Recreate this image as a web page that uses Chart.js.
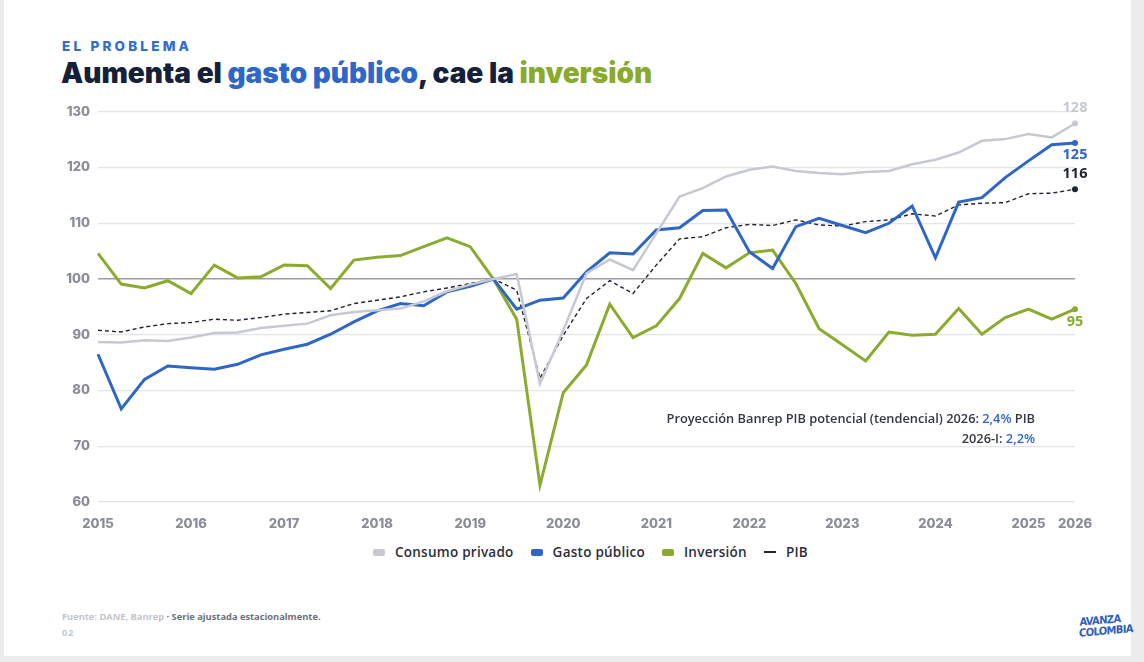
<!DOCTYPE html>
<html>
<head>
<meta charset="utf-8">
<script src="https://cdn.jsdelivr.net/npm/chart.js@4/dist/chart.umd.min.js"></script>
<style>
  html, body { margin: 0; padding: 0; }
  body { width: 1144px; height: 662px; background: #ececef; position: relative; overflow: hidden; font-family: "Open Sans", sans-serif; }
  #card { position: absolute; left: 4px; top: 0; width: 1127px; height: 656px; background: #fff; }
  .kicker { position: absolute; left: 62px; top: 38px; font: 800 13.5px Inter, sans-serif; letter-spacing: 3.2px; color: #2f6bd0; }
  .title { position: absolute; left: 61px; top: 56px; font: 900 28px Inter, sans-serif; letter-spacing: 0; color: #15203a; white-space: nowrap; }
  .title .b { color: #2f67c9; }
  .title .g { color: #8aaa2c; }
  #wrap { position: absolute; left: 40px; top: 96px; width: 1070px; height: 436px; }
  #legend { position: absolute; left: 373px; top: 543px; display: flex; gap: 17px; font: 600 13.5px "Open Sans", sans-serif; letter-spacing: 0.25px; color: #2b2f3a; }
  #legend span.item { display: flex; align-items: center; gap: 10px; }
  #legend i { display: inline-block; width: 12px; height: 7px; border-radius: 2px; }
  #legend i.line { height: 2px; border-radius: 0; }
  .foot { position: absolute; left: 62px; top: 610px; font: 700 9.3px "Open Sans", sans-serif; color: #6d707a; }
  .foot .l { color: #c3c5cb; }
  .page { position: absolute; left: 62px; top: 626px; font: 700 9px "Open Sans", sans-serif; color: #c3c5cb; letter-spacing: 1px; }
  .logo { position: absolute; left: 1079px; top: 614px; width: 42px; padding: 1px 0; font: 700 11px/11px "DejaVu Sans Condensed", "DejaVu Sans", sans-serif; color: #2f5fb8; text-align: center; letter-spacing: -0.6px; transform: skewY(-5deg); }
</style>
</head>
<body>
<div id="card"></div>
<div class="kicker">EL PROBLEMA</div>
<div class="title">Aumenta el <span class="b">gasto público</span>, cae la <span class="g">inversión</span></div>
<div id="wrap"><canvas id="chart"></canvas></div>
<div id="legend"></div>
<div class="foot"><span class="l">Fuente: DANE, Banrep</span> · Serie ajustada estacionalmente.</div>
<div class="page">02</div>
<div class="logo">AVANZA<br>COLOMBIA</div>
<script>
// quarterly categories, 2015-I .. 2025-III
const quarters = [
  '2015-I','2015-II','2015-III','2015-IV','2016-I','2016-II','2016-III','2016-IV',
  '2017-I','2017-II','2017-III','2017-IV','2018-I','2018-II','2018-III','2018-IV',
  '2019-I','2019-II','2019-III','2019-IV','2020-I','2020-II','2020-III','2020-IV',
  '2021-I','2021-II','2021-III','2021-IV','2022-I','2022-II','2022-III','2022-IV',
  '2023-I','2023-II','2023-III','2023-IV','2024-I','2024-II','2024-III','2024-IV',
  '2025-I','2025-II','2025-III'
];
// year labels shown on the x axis (by category index)
const xTickLabels = { 0: '2015', 4: '2016', 8: '2017', 12: '2018', 16: '2019', 20: '2020',
  24: '2021', 28: '2022', 32: '2023', 36: '2024', 40: '2025', 42: '2026' };
const yTicks = [60, 70, 80, 90, 100, 110, 120, 130];

const consumo = [88.7, 88.6, 89.0, 88.9, 89.5, 90.3, 90.4, 91.2, 91.6, 92.0, 93.5, 94.1,
  94.4, 94.7, 96.0, 97.8, 99.0, 100, 100.9, 81.2, 90.8, 101.0, 103.5, 101.6,
  108.2, 114.8, 116.3, 118.4, 119.6, 120.2, 119.4, 119.0, 118.8, 119.2, 119.4, 120.6,
  121.4, 122.7, 124.8, 125.1, 126.0, 125.4, 127.9];
const gasto = [86.5, 76.7, 82.0, 84.4, 84.1, 83.8, 84.7, 86.4, 87.4, 88.3, 90.1, 92.3,
  94.3, 95.6, 95.2, 97.7, 98.7, 100, 94.6, 96.2, 96.6, 101.3, 104.7, 104.5,
  108.8, 109.2, 112.3, 112.4, 104.9, 101.9, 109.4, 110.9, 109.6, 108.3, 110.0, 113.1,
  103.8, 113.8, 114.6, 118.2, 121.2, 124.1, 124.4];
const inversion = [104.6, 99.1, 98.4, 99.7, 97.4, 102.5, 100.2, 100.4, 102.5, 102.4, 98.3, 103.4,
  103.9, 104.2, 105.8, 107.4, 105.8, 100, 92.8, 63.0, 79.6, 84.6, 95.5, 89.5,
  91.6, 96.5, 104.6, 102.0, 104.7, 105.2, 99.2, 91.1, 88.2, 85.3, 90.5, 89.9,
  90.1, 94.7, 90.1, 93.1, 94.6, 92.8, 94.6];
const pib = [90.8, 90.5, 91.4, 92.0, 92.2, 92.8, 92.6, 93.1, 93.7, 94.0, 94.3, 95.6,
  96.2, 96.8, 97.7, 98.4, 99.2, 100, 98.0, 82.2, 89.9, 96.5, 99.7, 97.4,
  102.5, 107.2, 107.6, 109.2, 109.8, 109.6, 110.6, 109.7, 109.5, 110.3, 110.6, 111.7,
  111.3, 113.3, 113.6, 113.7, 115.3, 115.4, 116.1];
const endLabels = ['128', '125', '95', '116'];

// annotation lines: [text, isHighlight]
const noteLines = [
  [['Proyección Banrep PIB potencial (tendencial) 2026: ', false], ['2,4%', true], [' PIB', false]],
  [['2026-I: ', false], ['2,2%', true]]
];

const GRAY = '#c6c9d1', BLUE = '#2e66c7', GREEN = '#8bab2e', DARK = '#1f2431';
const lastOnly = (r) => quarters.map((q, i) => i === quarters.length - 1 ? r : 0);

const datasets = [
  { label: 'Consumo privado', data: consumo, borderColor: GRAY, backgroundColor: GRAY, borderWidth: 2.5, legend: 'box' },
  { label: 'Gasto público', data: gasto, borderColor: BLUE, backgroundColor: BLUE, borderWidth: 3, legend: 'box' },
  { label: 'Inversión', data: inversion, borderColor: GREEN, backgroundColor: GREEN, borderWidth: 3, legend: 'box' },
  { label: 'PIB', data: pib, borderColor: DARK, backgroundColor: DARK, borderWidth: 1.4, borderDash: [4, 3], legend: 'line' }
].map(d => Object.assign(d, { pointRadius: lastOnly(3), pointBorderWidth: 0, tension: 0 }));

// HTML legend built from the datasets
const legend = document.getElementById('legend');
datasets.forEach(d => {
  const s = document.createElement('span');
  s.className = 'item';
  s.innerHTML = `<i class="${d.legend === 'line' ? 'line' : ''}" style="background:${d.borderColor}"></i>${d.label}`;
  legend.appendChild(s);
});

// value labels next to the last point of each series + the Banrep note
const endLabelOffsets = [[0, -16], [0, 12], [0, 13], [0, -15]];
const endLabelPlugin = {
  id: 'endLabels',
  afterDatasetsDraw(chart) {
    const ctx = chart.ctx;
    const area = chart.chartArea;
    ctx.save();
    ctx.font = '700 14.5px "Open Sans", sans-serif';
    ctx.textAlign = 'center';
    ctx.textBaseline = 'middle';
    chart.data.datasets.forEach((d, i) => {
      const pts = chart.getDatasetMeta(i).data;
      const p = pts[pts.length - 1];
      ctx.fillStyle = d.borderColor;
      ctx.fillText(endLabels[i], p.x + endLabelOffsets[i][0], p.y + endLabelOffsets[i][1]);
    });

    ctx.font = '600 12.8px "Open Sans", sans-serif';
    ctx.textAlign = 'left';
    noteLines.forEach((line, li) => {
      const total = line.reduce((w, s) => w + ctx.measureText(s[0]).width, 0);
      let x = area.right - 40 - total;
      const y = area.top + 308 + li * 20;
      line.forEach(s => {
        ctx.fillStyle = s[1] ? '#2f67c9' : '#353844';
        ctx.fillText(s[0], x, y);
        x += ctx.measureText(s[0]).width;
      });
    });
    ctx.restore();
  }
};

new Chart(document.getElementById('chart'), {
  type: 'line',
  data: { labels: quarters, datasets: datasets },
  plugins: [endLabelPlugin],
  options: {
    responsive: true,
    maintainAspectRatio: false,
    animation: false,
    layout: { padding: { top: 9, right: 35, left: 0, bottom: 0 } },
    plugins: { legend: { display: false }, tooltip: { enabled: false } },
    scales: {
      x: {
        grid: { display: false },
        border: { display: false },
        afterFit: s => { s.height = 30; },
        ticks: {
          autoSkip: false, maxRotation: 0, padding: 6,
          color: '#8a8c97', font: { family: 'Inter', weight: 800, size: 13 },
          callback: (v, i) => xTickLabels[i] || ''
        }
      },
      y: {
        min: yTicks[0], max: yTicks[yTicks.length - 1],
        afterFit: s => { s.width = 58; },
        afterBuildTicks: s => { s.ticks = yTicks.map(v => ({ value: v })); },
        border: { display: false },
        grid: {
          drawTicks: false,
          color: c => c.tick.value === 100 ? '#9a9ca5' : '#e3e4e8',
          lineWidth: c => c.tick.value === 100 ? 1.6 : 1.2
        },
        ticks: { padding: 8, color: '#8a8c97', font: { family: 'Inter', weight: 800, size: 13 } }
      }
    }
  }
});
</script>
</body>
</html>
